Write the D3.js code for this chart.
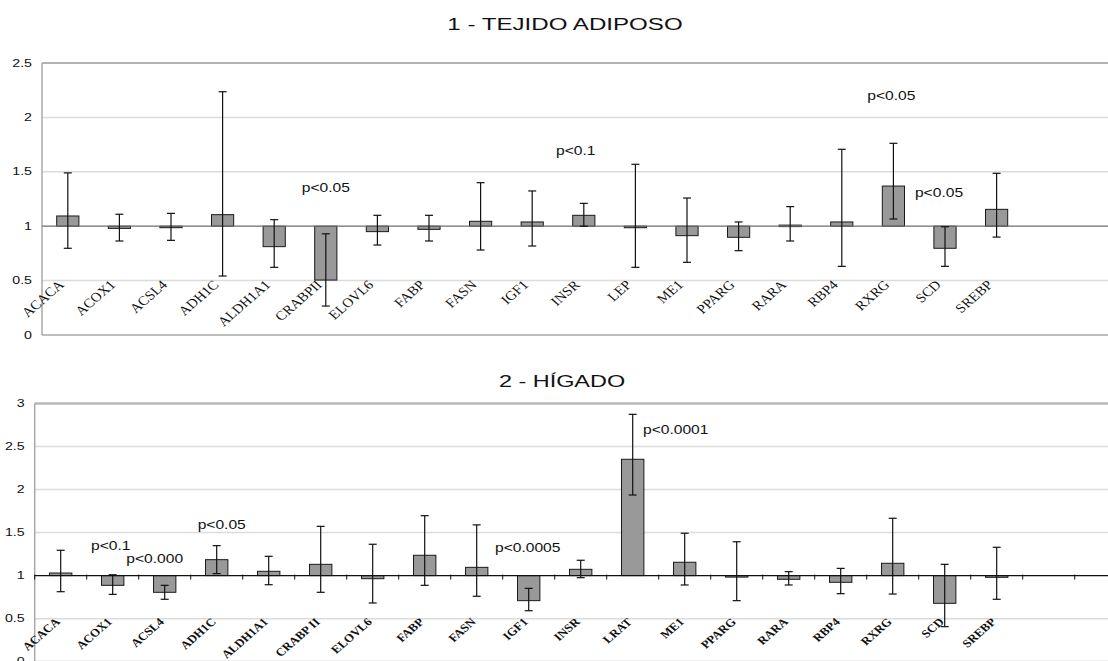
<!DOCTYPE html>
<html><head><meta charset="utf-8">
<script src="https://cdn.jsdelivr.net/npm/d3@7"></script>
<style>html,body{margin:0;padding:0;background:#fff;overflow:hidden}</style>
</head><body>
<svg id="c" width="1108" height="661"></svg>
<script>
// ---------- DATA ----------
const catsTop = ["ACACA","ACOX1","ACSL4","ADH1C","ALDH1A1","CRABPII","ELOVL6","FABP","FASN","IGF1","INSR","LEP","ME1","PPARG","RARA","RBP4","RXRG","SCD","SREBP"];
const valTop  = [1.094,0.98,0.99,1.106,0.812,0.505,0.95,0.971,1.045,1.039,1.10,0.986,0.913,0.898,1.01,1.039,1.369,0.797,1.155];
const lowTop  = [0.797,0.864,0.87,0.542,0.622,0.266,0.827,0.864,0.781,0.818,1.0,0.622,0.668,0.775,0.864,0.631,1.066,0.631,0.90];
const highTop = [1.49,1.11,1.118,2.236,1.06,0.93,1.10,1.10,1.40,1.324,1.21,1.569,1.259,1.039,1.18,1.707,1.762,0.995,1.486];
const ticksTop = [0,0.5,1,1.5,2,2.5];
const annTop = [["p<0.05","CRABPII",1.31],["p<0.1","INSR",1.65],["p<0.05","RXRG",2.16],["p<0.05","SCD",1.27]];

const catsBot = ["ACACA","ACOX1","ACSL4","ADH1C","ALDH1A1","CRABP II","ELOVL6","FABP","FASN","IGF1","INSR","LRAT","ME1","PPARG","RARA","RBP4","RXRG","SCD","SREBP"];
const valBot  = [1.03,0.887,0.806,1.185,1.05,1.131,0.964,1.236,1.096,0.709,1.073,2.351,1.155,1.0,0.957,0.922,1.143,0.678,0.98];
const lowBot  = [0.813,0.782,0.725,1.023,0.894,0.806,0.682,0.887,0.76,0.592,0.976,1.936,0.891,0.709,0.891,0.79,0.786,0.407,0.725];
const highBot = [1.294,1.01,0.887,1.348,1.224,1.572,1.364,1.696,1.589,0.852,1.178,2.873,1.492,1.393,1.046,1.084,1.666,1.131,1.329];
const ticksBot = [0,0.5,1,1.5,2,2.5,3];
const annBot = [["p<0.1","ACOX1",1.297],["p<0.000","ACSL4",1.149],["p<0.05","ADH1C",1.543],["p<0.0005","IGF1",1.276],["p<0.0001","LRAT",2.65]];

const titleTop = "1 - TEJIDO ADIPOSO";
const titleBot = "2 - HÍGADO";

// ---------- DRAW ----------
const svg = d3.select("#c");
const SX = 1.42; // horizontal stretch of the original picture

function panel(o){
  const g = svg.append("g");
  const x = d3.scaleBand().domain(o.cats).range([o.left, o.left + o.band*o.cats.length]);
  const y = d3.scaleLinear().domain([0, o.ticks[o.ticks.length-1]]).range([o.bottom, o.top]);
  const W = 1108;
  const tmax = o.ticks[o.ticks.length-1];
  g.selectAll(".grid").data(o.ticks.filter(t=>t!==1 && t!==0 && t!==tmax))
    .enter().append("line")
    .attr("x1", o.left).attr("x2", W).attr("y1", d=>y(d)).attr("y2", d=>y(d))
    .attr("stroke", "#dcdcdc").attr("stroke-width", 1.5);
  g.append("line").attr("x1", o.left).attr("x2", W).attr("y1", y(tmax)).attr("y2", y(tmax))
    .attr("stroke", o.topColor).attr("stroke-width", o.topW);
  g.append("line").attr("x1", o.left).attr("x2", W).attr("y1", y(0)).attr("y2", y(0))
    .attr("stroke", "#bdbdbd").attr("stroke-width", 2);
  g.append("line").attr("x1", o.left).attr("x2", o.left).attr("y1", y(0)).attr("y2", y(tmax))
    .attr("stroke", "#a8a8a8").attr("stroke-width", 1.5);
  g.selectAll(".yt").data(o.ticks).enter().append("text")
    .attr("transform", d=>`translate(${o.left-10},${y(d)+3.5}) scale(${SX},1)`)
    .attr("text-anchor","end").attr("font-family","Liberation Sans, Arial, sans-serif")
    .attr("font-size", 10).attr("fill","#111").text(d=>d);
  const bw = o.band*0.43;
  g.selectAll(".bar").data(o.vals).enter().append("rect")
    .attr("x", (d,i)=>x(o.cats[i]) + x.bandwidth()/2 - bw/2)
    .attr("width", bw)
    .attr("y", d=>Math.min(y(d), y(1)))
    .attr("height", d=>Math.max(Math.abs(y(d)-y(1)), 1.5))
    .attr("fill", "#999999").attr("stroke", "#1a1a1a").attr("stroke-width", 1);
  g.append("line").attr("x1", o.left).attr("x2", W).attr("y1", y(1)).attr("y2", y(1))
    .attr("stroke", o.baseColor).attr("stroke-width", 1.2);
  if (o.baseTicks){
    g.selectAll(".bt").data(d3.range(o.cats.length+2)).enter().append("line")
      .attr("x1", i=>o.left + i*o.band).attr("x2", i=>o.left + i*o.band)
      .attr("y1", y(1)-1).attr("y2", y(1)+4).attr("stroke","#111").attr("stroke-width",1);
  }
  const cx = i => x(o.cats[i]) + x.bandwidth()/2;
  const eg = g.selectAll(".err").data(o.cats).enter().append("g");
  eg.append("line").attr("x1",(d,i)=>cx(i)).attr("x2",(d,i)=>cx(i))
    .attr("y1",(d,i)=>y(o.low[i])).attr("y2",(d,i)=>y(o.high[i])).attr("stroke","#111").attr("stroke-width",1.2);
  eg.append("line").attr("x1",(d,i)=>cx(i)-4).attr("x2",(d,i)=>cx(i)+4)
    .attr("y1",(d,i)=>y(o.high[i])).attr("y2",(d,i)=>y(o.high[i])).attr("stroke","#111").attr("stroke-width",1.2);
  eg.append("line").attr("x1",(d,i)=>cx(i)-4).attr("x2",(d,i)=>cx(i)+4)
    .attr("y1",(d,i)=>y(o.low[i])).attr("y2",(d,i)=>y(o.low[i])).attr("stroke","#111").attr("stroke-width",1.2);
  g.selectAll(".cl").data(o.cats).enter().append("text")
    .attr("transform",(d,i)=>`translate(${cx(i)+o.lblDx},${y(0.5)+o.lblDy}) scale(1.15,1) rotate(-45)`)
    .attr("text-anchor","end").attr("font-family","Liberation Serif, Times New Roman, serif")
    .attr("font-weight", o.bold ? "bold" : "normal")
    .attr("font-size", o.lblSize).attr("fill","#111").text(d=>d);
  g.selectAll(".an").data(o.ann).enter().append("text")
    .attr("transform", d=>`translate(${cx(o.cats.indexOf(d[1])) + (o.annDx[d[1]]||0)},${y(d[2])}) scale(1.25,1)`)
    .attr("text-anchor","middle").attr("font-family","Liberation Sans, Arial, sans-serif")
    .attr("font-size", 12.5).attr("fill","#111").text(d=>d[0]);
  svg.append("text").attr("transform",`translate(${o.titleX},${o.titleY}) scale(${SX},1)`)
    .attr("text-anchor","middle").attr("font-family","Liberation Sans, Arial, sans-serif")
    .attr("font-size", o.titleSize).attr("fill","#111").text(o.title);
}

panel({cats: catsTop, vals: valTop, low: lowTop, high: highTop, ticks: ticksTop, ann: annTop,
  left: 42, band: 51.6, top: 63, bottom: 335, topColor: "#9a9a9a", topW: 1.5, baseColor: "#6e6e6e",
  baseTicks: false, bold: false, lblSize: 13, lblDx: -3, lblDy: 5,
  annDx: {INSR: -8, RXRG: -2, SCD: -6},
  title: titleTop, titleX: 565, titleY: 30, titleSize: 17});

panel({cats: catsBot, vals: valBot, low: lowBot, high: highBot, ticks: ticksBot, ann: annBot,
  left: 34.7, band: 52, top: 403.4, bottom: 661.7, topColor: "#b8b8b8", topW: 2.5, baseColor: "#111",
  baseTicks: true, bold: true, lblSize: 11.2, lblDx: 0, lblDy: 4,
  annDx: {ACOX1: -2, ACSL4: -10, ADH1C: 5, IGF1: -1, LRAT: 43},
  title: titleBot, titleX: 562, titleY: 387, titleSize: 16.5});
</script>
</body></html>
